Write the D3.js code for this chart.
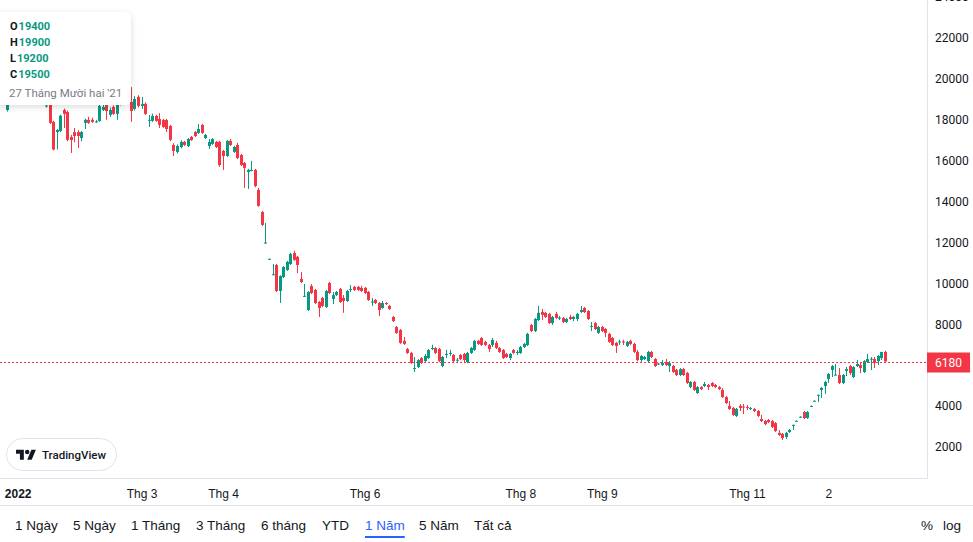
<!DOCTYPE html>
<html><head><meta charset="utf-8">
<script src="https://cdn.jsdelivr.net/npm/d3@7"></script>
<style>
html,body{margin:0;padding:0;background:#fff;}
svg{display:block;font-family:Roboto,"Noto Sans",sans-serif;}
</style></head>
<body>
<svg id="chart" width="973" height="542"></svg>
<script>
// ---- data ----
const opens = [19200,18480,18850,19200,19500,19400,19500,19300,19500,19600,
19300,19200,18650,18950,17900,17400,17450,18480,18380,17160,
17400,17400,17110,17850,18000,18000,17880,17940,18480,18730,
18240,18630,18290,18750,19100,19000,18870,18530,19120,18680,
18780,17950,17950,18190,18040,17990,17990,17700,16770,16430,
16670,16920,16720,17160,17410,17360,17750,17110,16720,16820,
16920,16920,16480,16230,16970,16430,16770,16280,15890,15450,
15500,15550,14570,13490,11950,11180,10400,10900,9630,10310,
10660,10950,11490,11300,10220,9340,8700,9870,9680,9090,
9290,8850,10020,9240,9430,9730,9290,9140,9680,9830,
9830,9780,9780,9580,9070,9190,9040,8800,9040,8900,
8360,7870,7720,7190,6790,6600,5810,5910,6350,6200,
6350,6800,6840,6790,5960,6500,6550,6500,6230,6500,
6550,6150,6600,6750,7190,7330,7140,6990,6990,7090,
6840,6740,6550,6350,6740,6600,6600,6890,6990,7970,
7670,8210,8600,8560,8510,8060,8510,8290,8310,8110,
8360,8260,8260,8600,8800,8650,7890,8060,7580,7870,
7770,7530,7330,7090,7110,7160,6940,7190,7040,6650,
6250,6300,6200,6650,6300,6040,6010,6160,5960,5960,
5770,5520,5810,5620,4930,5180,4640,4930,4980,5030,
5130,5030,4930,4790,4440,4010,3910,3520,4010,3980,
3960,3860,3860,3760,3370,3270,3320,3270,3170,2690,
2640,2490,2730,3030,3250,3440,3710,3420,3980,4230,
4520,4790,4980,5330,5770,5500,5520,5130,5720,5960,
5420,5960,6010,5670,6160,6280,6300,6200,6350,6650];
const highs = [19500,19000,19300,19600,19900,19900,19700,19600,19800,19800,
19500,19400,18750,19050,17950,17550,18250,18550,18450,17260,
17600,17500,17450,18050,18150,18100,18000,18750,18750,18800,
18600,18700,18800,19200,19300,19400,19600,19150,19200,19120,
18850,18240,18300,18250,18330,18050,18050,17750,16850,16800,
17000,16970,17110,17210,17450,17800,17800,17310,17060,17110,
16970,16970,16530,17010,17060,16720,16870,16330,15940,15600,
15990,15600,14670,13540,12950,11220,10950,10950,10400,10850,
11100,11500,11600,11350,10560,9970,9620,9970,9730,9140,
9340,9680,10070,9580,9630,9780,9430,9680,9920,9880,
9880,9880,9830,9630,9290,9240,9090,9140,9090,8950,
8410,7920,7770,7380,6840,6650,6400,6300,6400,6550,
6790,7000,6890,6840,6450,6750,6750,6550,6350,6550,
6600,6650,6890,7240,7240,7380,7190,7040,7330,7190,
6890,6790,6600,6600,6790,6740,6940,7090,7580,8020,
8310,8900,8750,8610,8560,8410,8610,8410,8360,8310,
8460,8410,8560,8900,8850,8700,8110,8110,7920,7920,
7820,7580,7380,7140,7240,7240,7190,7240,7090,6740,
6500,6450,6700,6700,6350,6110,6250,6300,6200,6010,
5820,5860,5860,5670,5230,5230,4980,4980,5180,5080,
5180,5080,4980,4880,4490,4250,3960,3910,4100,4100,
4050,3960,3910,3810,3570,3320,3370,3320,3220,2830,
2690,2740,2880,3100,3300,3500,3760,3760,4030,4280,
4560,4930,5230,5620,6010,6060,5860,5570,5910,6010,
5960,6250,6160,6250,6550,6400,6400,6500,6650,6700];
const lows = [19000,18400,18800,19100,19300,19200,19200,19000,19300,19200,
19000,18900,18600,17800,16500,16550,17400,17600,16950,16380,
16900,16620,16950,17550,17800,17850,17850,17900,18430,18000,
18150,18240,18000,18700,18900,18900,17900,18450,18600,18530,
18240,17650,17900,17900,17600,17600,17400,16950,16230,16350,
16600,16720,16670,16970,17160,17310,17310,17060,16580,16770,
16620,15700,15550,16180,16720,16380,16080,15740,14670,14620,
15480,14700,13750,12800,11950,11170,10400,9580,9040,10260,
10610,10900,11100,10500,10020,9340,8650,9480,8990,8360,
8850,8800,9480,8990,9380,9040,8560,9090,9580,9630,
9630,9580,9480,9140,8900,8990,8400,8750,8940,8700,
8110,7530,7040,6990,6550,6060,5670,5860,6060,6150,
6300,6740,6550,6150,5900,6350,6450,6150,6100,6250,
6100,6100,6550,6700,6990,6940,6940,6650,6890,6790,
6600,6300,6350,6250,6550,6500,6550,6840,6940,7620,
7620,8160,8210,8310,8010,7970,8260,8210,8060,8060,
8210,8160,8160,8560,8550,8210,7670,7720,7530,7620,
7380,7090,6940,6600,6990,6990,6890,6990,6600,6200,
6150,6250,6150,6350,5910,6010,5960,5960,5670,5620,
5470,5470,5470,5080,4880,4740,4590,4780,4930,4790,
4930,4880,4790,4400,4100,3810,3520,3470,3760,3610,
3810,3810,3710,3470,3220,3070,3170,2930,2730,2540,
2340,2390,2690,2830,3240,3440,3370,3370,3960,4230,
4200,4400,4600,5130,5420,5500,5080,5080,5470,5520,
5370,5910,5620,5620,6110,5760,5860,6010,6250,6180];
const closes = [19400,18820,19200,19500,19400,19500,19300,19500,19600,19300,
19200,19000,18700,17850,16550,17500,18200,18290,17020,17010,
17210,17210,17400,18000,17850,17900,17920,18680,18630,18430,
18480,18290,18730,19100,19000,19300,18430,19020,18680,18780,
18290,18000,18190,17950,17750,17650,17550,17020,16480,16720,
16920,16770,17060,17010,17210,17550,17360,17260,16920,17060,
16670,15790,16230,16970,16770,16670,16130,15790,15650,15550,
15550,14760,13790,12860,12000,11200,10450,9630,10360,10800,
11050,11440,11150,10900,10070,9390,9580,9530,9040,8800,
8900,9630,9530,9430,9580,9090,9140,9630,9730,9680,
9680,9630,9530,9190,9110,9040,8700,9040,8990,8750,
8160,7580,7090,7040,6600,6110,5860,6250,6110,6450,
6740,6840,6600,6200,6400,6550,6600,6200,6270,6300,
6250,6600,6840,7190,7040,6990,6990,6790,7240,6840,
6650,6350,6400,6550,6600,6650,6890,7040,7530,7670,
8260,8560,8460,8360,8060,8360,8310,8330,8110,8260,
8260,8360,8510,8700,8600,8260,7920,7770,7870,7670,
7580,7140,6990,6940,7160,7110,7140,7040,6650,6250,
6450,6400,6650,6400,5960,6080,6110,6010,6110,5670,
5520,5810,5520,5130,5180,4790,4930,4830,5080,4930,
4980,4930,4830,4440,4150,3860,3570,3860,3910,3940,
3910,3910,3760,3520,3270,3120,3220,2980,2780,2590,
2440,2690,2830,3080,3280,3480,3420,3710,4010,4260,
4550,4890,5180,5570,5960,5540,5130,5520,5810,5620,
5910,6060,5860,6200,6300,6320,6110,6450,6650,6180];

const xTickIdx = [4, 39, 62, 102, 146, 169, 210, 233];
const xTickLabels = ["2022", "Thg 3", "Thg 4", "Thg 6", "Thg 8", "Thg 9", "Thg 11", "2"];
const yTickValues = [2000, 4000, 8000, 10000, 12000, 14000, 16000, 18000, 20000, 22000, 24000];
const lastPrice = 6180;
const legendKeys = ["O", "H", "L", "C"];
const legendValues = [19400, 19900, 19200, 19500];
const legendDate = "27 Tháng Mười hai '21";
const rangeLabels = ["1 Ngày", "5 Ngày", "1 Tháng", "3 Tháng", "6 tháng", "YTD", "1 Năm", "5 Năm", "Tất cả"];
const activeRange = "1 Năm";
const scaleButtons = ["%", "log"];

// ---- layout (pixel positions of toolbar items) ----
const rangeX = [15, 73, 131, 196, 261, 322, 365, 419, 474];
const scaleX = [921, 943];

// ---- drawing ----
const UP = "#089981", DOWN = "#f23645", GRID = "#e0e3eb", TEXT = "#131722";
const W = 973, H = 542, plotR = 927, plotB = 479;
const svg = d3.select("#chart");

const defs = svg.append("defs");
const f = defs.append("filter").attr("id", "shadow").attr("x", "-20%").attr("y", "-20%").attr("width", "140%").attr("height", "150%");
f.append("feDropShadow").attr("dx", 0).attr("dy", 2).attr("stdDeviation", 3).attr("flood-color", "#000").attr("flood-opacity", 0.14);
defs.append("clipPath").attr("id", "plotclip").append("rect").attr("x", 0).attr("y", 0).attr("width", plotR).attr("height", plotB);

const n = closes.length;
const x = d3.scaleLinear().domain([0, n - 1]).range([3.5, 885]);
const y = d3.scaleLinear().domain([2000, 22000]).range([447, 38]);

// frame
svg.append("line").attr("x1", plotR + 0.5).attr("x2", plotR + 0.5).attr("y1", 0).attr("y2", plotB).attr("stroke", GRID);
svg.append("line").attr("x1", 0).attr("x2", plotR + 1).attr("y1", plotB - 0.5).attr("y2", plotB - 0.5).attr("stroke", GRID);
svg.append("line").attr("x1", 0).attr("x2", W).attr("y1", 505.5).attr("y2", 505.5).attr("stroke", GRID);

// candles
const plot = svg.append("g").attr("clip-path", "url(#plotclip)");
const idx = d3.range(n);
const col = i => closes[i] >= opens[i] ? UP : DOWN;
plot.selectAll("line.wick").data(idx).join("line").attr("class", "wick")
  .attr("x1", i => Math.round(x(i)) + 0.5).attr("x2", i => Math.round(x(i)) + 0.5)
  .attr("y1", i => y(highs[i])).attr("y2", i => y(lows[i]))
  .attr("stroke", col).attr("stroke-width", 1);
plot.selectAll("rect.body").data(idx).join("rect").attr("class", "body")
  .attr("x", i => Math.round(x(i)) - 1).attr("width", 3)
  .attr("y", i => Math.min(y(opens[i]), y(closes[i])))
  .attr("height", i => Math.max(1, Math.abs(y(opens[i]) - y(closes[i]))))
  .attr("fill", col);

// last price line
plot.append("line").attr("x1", 0).attr("x2", plotR).attr("y1", Math.round(y(lastPrice)) + 0.5).attr("y2", Math.round(y(lastPrice)) + 0.5)
  .attr("stroke", DOWN).attr("stroke-width", 1).attr("stroke-dasharray", "2,2");

// y axis
const yAxis = d3.axisRight(y).tickValues(yTickValues).tickSize(0).tickPadding(8).tickFormat(d3.format("d"));
const gy = svg.append("g").attr("transform", `translate(${plotR},0)`).call(yAxis);
gy.select(".domain").remove();
gy.selectAll("text").attr("fill", TEXT).attr("font-size", 12).attr("font-family", "Roboto, sans-serif");

// last price label
svg.append("rect").attr("x", plotR).attr("y", Math.round(y(lastPrice)) - 9.5).attr("width", 43).attr("height", 20).attr("fill", DOWN);
svg.append("text").attr("x", plotR + 8).attr("y", y(lastPrice) + 1).attr("dy", "0.35em").attr("fill", "#fff")
  .attr("font-size", 12).text(lastPrice);

// x axis
const xAxis = d3.axisBottom(x).tickValues(xTickIdx).tickSize(0).tickFormat((d, i) => xTickLabels[i]);
const gx = svg.append("g").attr("transform", `translate(0,${plotB})`).call(xAxis);
gx.select(".domain").remove();
gx.selectAll("text").attr("y", 15).attr("dy", "0.35em").attr("fill", TEXT).attr("font-size", 12)
  .attr("font-weight", (d, i) => i === 0 ? 700 : 400);

// legend tooltip
const lg = svg.append("g");
lg.append("rect").attr("x", -8).attr("y", 12).attr("width", 139).attr("height", 93).attr("rx", 6)
  .attr("fill", "#fff").attr("filter", "url(#shadow)");
legendKeys.forEach((k, i) => {
  const t = lg.append("text").attr("x", 10).attr("y", 26 + i * 16).attr("dy", "0.35em")
    .attr("font-size", 11).attr("font-weight", 700);
  t.append("tspan").attr("fill", TEXT).text(k);
  t.append("tspan").attr("fill", UP).attr("dx", 1).text(legendValues[i]);
});
lg.append("text").attr("x", 9).attr("y", 93).attr("dy", "0.35em").attr("font-size", 11.5)
  .attr("fill", "#787b86").text(legendDate);

// TradingView badge
const badge = svg.append("g");
badge.append("rect").attr("x", 6.5).attr("y", 438.5).attr("width", 110).attr("height", 32).attr("rx", 16)
  .attr("fill", "#fff").attr("stroke", GRID);
const logo = badge.append("g").attr("transform", "translate(16,447.5) scale(0.56)");
logo.append("path").attr("d", "M14 22H7V11H0V4h14v18zM28 22h-8l7.5-18h8L28 22z").attr("fill", TEXT);
logo.append("circle").attr("cx", 20).attr("cy", 8).attr("r", 4).attr("fill", TEXT);
badge.append("text").attr("x", 42).attr("y", 454.5).attr("dy", "0.35em").attr("font-size", 11.5)
  .attr("font-weight", 500).attr("fill", TEXT).text("TradingView");

// range toolbar
const tb = svg.append("g");
rangeLabels.forEach((lbl, i) => {
  const active = lbl === activeRange;
  const t = tb.append("text").attr("x", rangeX[i]).attr("y", 525).attr("dy", "0.35em").attr("font-size", 13.5)
    .attr("font-family", "'Liberation Sans', Arial, sans-serif")
    .attr("fill", active ? "#2962ff" : TEXT).text(lbl);
  if (active) {
    const w = t.node().getComputedTextLength();
    tb.append("rect").attr("x", rangeX[i]).attr("y", 536).attr("width", w).attr("height", 2).attr("fill", "#2962ff");
  }
});
scaleButtons.forEach((lbl, i) => {
  tb.append("text").attr("x", scaleX[i]).attr("y", 525).attr("dy", "0.35em").attr("font-size", 13.5)
    .attr("font-family", "'Liberation Sans', Arial, sans-serif").attr("fill", TEXT).text(lbl);
});
</script>
</body></html>
